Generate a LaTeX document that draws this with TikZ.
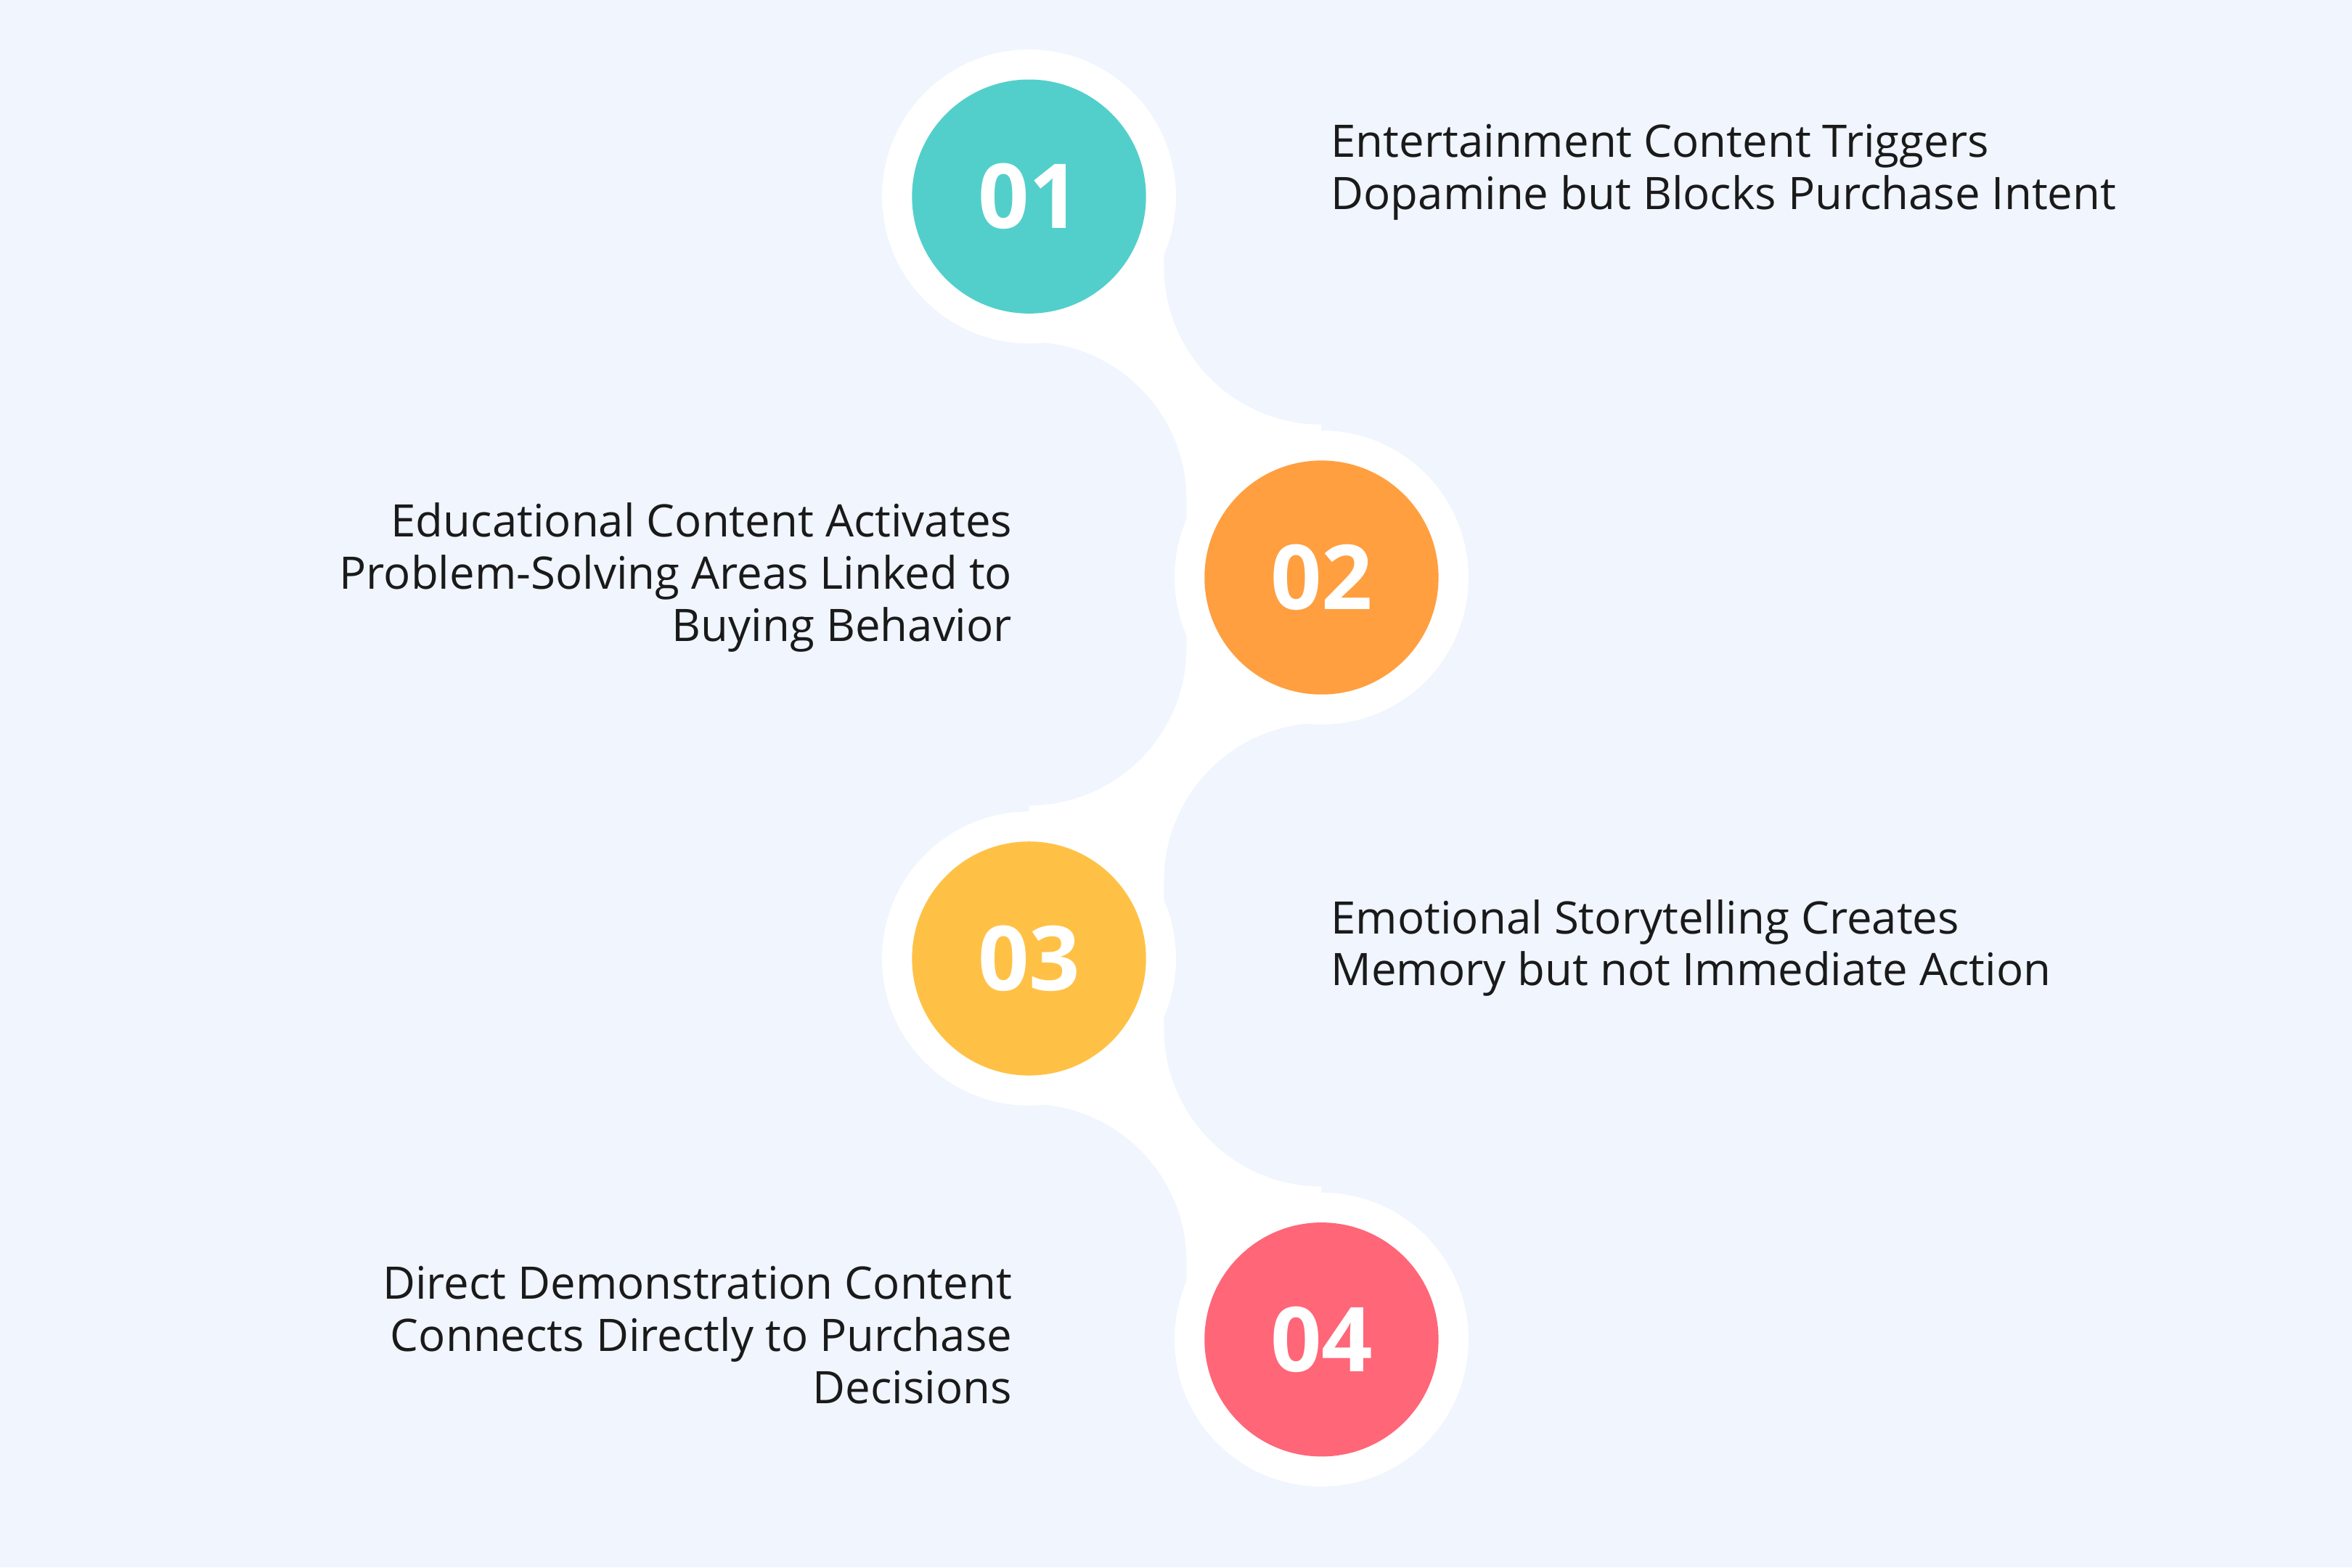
\documentclass[tikz,border=0pt]{standalone}
\usepackage{fontspec}
\setmainfont{Open Sans}
\definecolor{bg}{HTML}{F0F5FE}
\definecolor{cA}{HTML}{52CFCB}
\definecolor{cB}{HTML}{FF9F40}
\definecolor{cC}{HTML}{FFC145}
\definecolor{cD}{HTML}{FF6678}
\definecolor{txt}{HTML}{1A1A1A}
\tikzset{
  ring/.style={circle,fill=white,minimum size=196*0.02cm,inner sep=0},
  dot/.style={circle,minimum size=156*0.02cm,inner sep=0,text=white,font=\bfseries\fontsize{34}{34}\selectfont},
  lbl/.style={text=txt,font=\fontsize{17}{19.8}\selectfont,inner sep=0},
}
\begin{document}
\begin{tikzpicture}[x=0.02cm,y=-0.02cm]
\fill[bg] (0,0) rectangle (1568,1045);
\useasboundingbox (0,0) rectangle (1568,1045);
% connectors down-right (1->2, 3->4)
\foreach \o in {0,508}{
  \fill[white] (686,131+\o) -- (686,228+\o) arc[start angle=-90,end angle=0,radius=105] -- (791,385+\o) -- (881,385+\o) -- (881,283+\o) arc[start angle=90,end angle=180,radius=105] -- (776,131+\o) -- cycle;
}
% connector down-left (2->3)
\fill[white] (881,385) -- (881,482) arc[start angle=-90,end angle=-180,radius=105] -- (776,639) -- (686,639) -- (686,537) arc[start angle=90,end angle=0,radius=105] -- (791,385) -- cycle;
\node[ring] (r1) at (686,131) {};
\node[ring] (r2) at (881,385) {};
\node[ring] (r3) at (686,639) {};
\node[ring] (r4) at (881,893) {};
\node[dot,fill=cA] (n1) at (686,131) {01};
\node[dot,fill=cB] (n2) at (881,385) {02};
\node[dot,fill=cC] (n3) at (686,639) {03};
\node[dot,fill=cD] (n4) at (881,893) {04};
\node[lbl,anchor=west,align=left] (t1) at (887,115) {Entertainment Content Triggers\\Dopamine but Blocks Purchase Intent};
\node[lbl,anchor=east,align=right] (t2) at (675,385) {Educational Content Activates\\Problem-Solving Areas Linked to\\Buying Behavior};
\node[lbl,anchor=west,align=left] (t3) at (887,632) {Emotional Storytelling Creates\\Memory but not Immediate Action};
\node[lbl,anchor=east,align=right] (t4) at (675,890) {Direct Demonstration Content\\Connects Directly to Purchase\\Decisions};
\end{tikzpicture}
\end{document}
